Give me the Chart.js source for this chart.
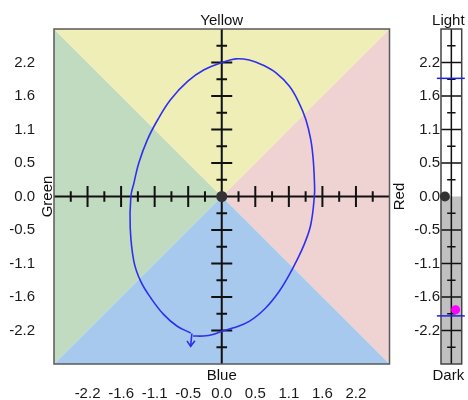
<!DOCTYPE html>
<html><head><meta charset="utf-8">
<script src="https://cdn.jsdelivr.net/npm/chart.js@4/dist/chart.umd.min.js"></script>
<style>
html,body{margin:0;padding:0;background:#fff;}
#wrap{position:relative;width:468px;height:400px;}
#wrap canvas{position:absolute;left:0;top:0;}
</style></head><body>
<div id="wrap"><canvas id="main" width="468" height="400"></canvas><canvas id="side" width="468" height="400"></canvas></div>
<script>
// ---- data ----
const axisMin = -2.75, axisMax = 2.75;
const tickValues = [-2.2,-1.65,-1.1,-0.55,0,0.55,1.1,1.65,2.2];
const tickLabels = ["-2.2","-1.6","-1.1","-0.5","0.0","0.5","1.1","1.6","2.2"];
const minorTickValues = [-2.475,-1.925,-1.375,-0.825,-0.275,0.275,0.825,1.375,1.925,2.475];
const axisTitles = {top:"Yellow", right:"Red", bottom:"Blue", left:"Green"};
const sideTitles = {top:"Light", bottom:"Dark"};
const curveX = [-0.47,-0.30,-0.13,0.01,0.18,0.45,0.72,0.94,1.11,1.22,1.35,1.46,1.52,1.52,1.50,1.46,1.38,1.27,1.11,0.89,0.67,0.45,0.23,0.01,-0.29,-0.56,-0.84,-1.05,-1.22,-1.36,-1.44,-1.49,-1.50,-1.44,-1.33,-1.16,-0.95,-0.73,-0.51];
const curveY = [-2.29,-2.29,-2.26,-2.21,-2.16,-2.05,-1.83,-1.56,-1.28,-1.07,-0.79,-0.46,0.03,0.22,0.60,0.93,1.26,1.53,1.81,2.03,2.16,2.24,2.26,2.20,2.08,1.89,1.59,1.26,0.93,0.55,0.22,0.00,-0.52,-1.07,-1.39,-1.67,-1.94,-2.13,-2.24];
const arrowShaftX = [-0.49,-0.51];
const arrowShaftY = [-2.25,-2.46];
const arrowHeadX = [-0.57,-0.51,-0.44];
const arrowHeadY = [-2.37,-2.46,-2.37];
const originX = [0], originY = [0];
const boundValues = [1.94, -1.96];
const boundSpanX = [-1.4, 1.3];
const lightnessX = [-0.62], lightnessY = [0];
const markerX = [0.41], markerY = [-1.86];
const darkSpanX = [-1, 1];

const regionColors = {yellow:'rgb(238,238,182)', red:'rgb(239,211,211)', blue:'rgb(168,201,238)', green:'rgb(192,219,192)'};
const FONT = {family:'"Liberation Sans", Arial, sans-serif', size:15};
const pts = (xs, ys) => xs.map((x,i)=>({x, y:ys[i]}));

function crossPlugin(cfg){
  return {
    id:'cross'+cfg.name,
    beforeDatasetsDraw(chart){
      const {ctx, chartArea:a, scales:{x, y}} = chart;
      ctx.save();
      ctx.strokeStyle = '#111';
      ctx.lineWidth = cfg.lw;
      const x0 = x.getPixelForValue(0), y0 = y.getPixelForValue(0);
      ctx.beginPath();
      ctx.moveTo(x0, a.top); ctx.lineTo(x0, a.bottom);
      if (cfg.horizontal){ ctx.moveTo(a.left, y0); ctx.lineTo(a.right, y0); }
      tickValues.forEach(v=>{ if(v===0) return;
        const py = y.getPixelForValue(v);
        ctx.moveTo(x0-cfg.long, py); ctx.lineTo(x0+cfg.long, py);
        if (cfg.horizontal){ const px = x.getPixelForValue(v); ctx.moveTo(px, y0-cfg.long); ctx.lineTo(px, y0+cfg.long); }
      });
      minorTickValues.forEach(v=>{
        const py = y.getPixelForValue(v);
        ctx.moveTo(x0-cfg.short, py); ctx.lineTo(x0+cfg.short, py);
        if (cfg.horizontal){ const px = x.getPixelForValue(v); ctx.moveTo(px, y0-cfg.short); ctx.lineTo(px, y0+cfg.short); }
      });
      ctx.stroke();
      ctx.strokeStyle = cfg.border; ctx.lineWidth = 1.5;
      ctx.strokeRect(a.left, a.top, a.right-a.left, a.bottom-a.top);
      ctx.restore();
    },
    afterDraw(chart){
      const {ctx, chartArea:a} = chart;
      ctx.save();
      ctx.fillStyle = '#111';
      ctx.font = FONT.size+'px '+FONT.family;
      ctx.textAlign = 'center'; ctx.textBaseline = 'middle';
      const cx = (a.left+a.right)/2 + cfg.titleShift, cy = (a.top+a.bottom)/2;
      if (cfg.titles.top) ctx.fillText(cfg.titles.top, cx, a.top-8.5);
      if (cfg.titles.bottom) ctx.fillText(cfg.titles.bottom, cx, a.bottom+11.5);
      const rot = (t, px) => { ctx.save(); ctx.translate(px, cy); ctx.rotate(-Math.PI/2); ctx.fillText(t, 0, 0); ctx.restore(); };
      if (cfg.titles.left) rot(cfg.titles.left, a.left-6.5);
      if (cfg.titles.right) rot(cfg.titles.right, a.right+10);
      ctx.restore();
    }
  };
}

const yAxis = (width, pad) => ({
  type:'linear', min:axisMin, max:axisMax,
  grid:{display:false, drawTicks:false}, border:{display:false},
  afterBuildTicks: s => { s.ticks = tickValues.map(v=>({value:v})); },
  afterFit: s => { s.width = width; },
  ticks:{padding:pad, color:'#1a1a1a', font:FONT, callback:(v,i)=>tickLabels[i]}
});

const region = (data, fill, color, order) => ({data, fill, backgroundColor:color, borderWidth:0, pointRadius:0, order});

new Chart(document.getElementById('main'), {
  type:'line',
  data:{datasets:[
    region(pts([axisMin,0,axisMax],[axisMax,0,axisMax]), 'end', regionColors.yellow, 10),
    region(pts([axisMin,0,axisMax],[axisMin,0,axisMin]), 'start', regionColors.blue, 10),
    region(pts([axisMin,0],[axisMax,0]), '+1', regionColors.green, 10),
    region(pts([axisMin,0],[axisMin,0]), false, 'transparent', 10),
    region(pts([0,axisMax],[0,axisMax]), '+1', regionColors.red, 10),
    region(pts([0,axisMax],[0,axisMin]), false, 'transparent', 10),
    {data:pts(curveX,curveY), borderColor:'#2f2ff0', borderWidth:1.6, tension:0.4, pointRadius:0, fill:false, order:3},
    {data:pts(arrowShaftX,arrowShaftY), borderColor:'#2f2ff0', borderWidth:1.6, tension:0, pointRadius:0, fill:false, order:3},
    {data:pts(arrowHeadX,arrowHeadY), borderColor:'#2f2ff0', borderWidth:1.6, tension:0, pointRadius:0, fill:false, order:3},
    {data:pts(originX,originY), showLine:false, pointRadius:5.5, pointBackgroundColor:'#333', pointBorderWidth:0, order:1}
  ]},
  options:{
    responsive:false, animation:false, events:[],
    layout:{padding:{top:29, right:78.5, left:0, bottom:0}},
    scales:{
      x:{type:'linear', position:'bottom', min:axisMin, max:axisMax,
        grid:{display:false, drawTicks:false}, border:{display:false},
        afterBuildTicks: s => { s.ticks = tickValues.map(v=>({value:v})); },
        afterFit: s => { s.height = 36; },
        ticks:{padding:21, maxRotation:0, autoSkip:false, color:'#1a1a1a', font:FONT, callback:(v,i)=>tickLabels[i]}},
      y:yAxis(54, 19)
    },
    plugins:{legend:{display:false}, tooltip:{enabled:false}, filler:{drawTime:'beforeDatasetsDraw'}}
  },
  plugins:[crossPlugin({name:'main', lw:2, long:10.5, short:5.3, horizontal:true, border:'#5a5a5a', titles:axisTitles, titleShift:0})]
});

new Chart(document.getElementById('side'), {
  type:'line',
  data:{datasets:[
    region(pts(darkSpanX,[0,0]), 'start', '#c0c0c0', 10),
    {data:pts(boundSpanX,[boundValues[0],boundValues[0]]), borderColor:'#2020ee', borderWidth:1.5, pointRadius:0, fill:false, clip:false, order:3},
    {data:pts(boundSpanX,[boundValues[1],boundValues[1]]), borderColor:'#2020ee', borderWidth:1.5, pointRadius:0, fill:false, clip:false, order:3},
    {data:pts(lightnessX,lightnessY), showLine:false, pointRadius:5, pointBackgroundColor:'#333', pointBorderWidth:0, clip:false, order:1},
    {data:pts(markerX,markerY), showLine:false, pointRadius:4.5, pointBackgroundColor:'#ff00ff', pointBorderWidth:0, clip:false, order:1}
  ]},
  options:{
    responsive:false, animation:false, events:[],
    layout:{padding:{top:29, right:6.3, left:0, bottom:36}},
    scales:{
      x:{type:'linear', display:false, min:darkSpanX[0], max:darkSpanX[1]},
      y:yAxis(441, 1)
    },
    plugins:{legend:{display:false}, tooltip:{enabled:false}, filler:{drawTime:'beforeDatasetsDraw'}}
  },
  plugins:[crossPlugin({name:'side', lw:1.5, long:10.2, short:4.2, horizontal:false, border:'#444', titles:sideTitles, titleShift:-3})]
});
</script>
</body></html>
